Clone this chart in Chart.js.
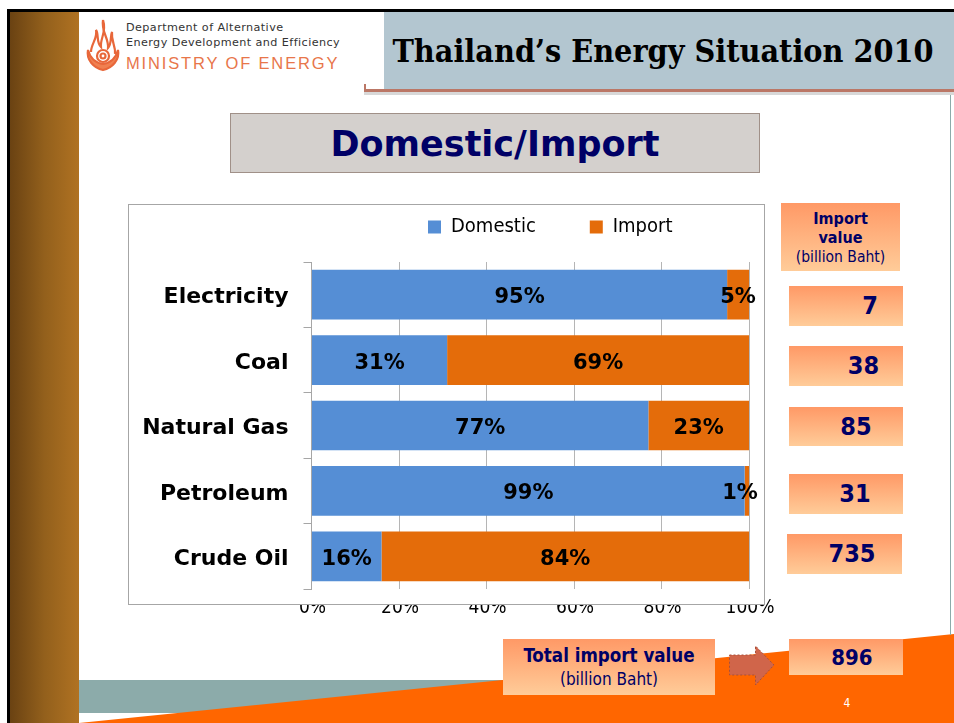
<!DOCTYPE html>
<html><head><meta charset="utf-8">
<script src="https://cdn.jsdelivr.net/npm/chart.js@4"></script>
<style>
html,body{margin:0;padding:0;background:#fff;width:954px;height:723px;overflow:hidden}
.a{position:absolute;box-sizing:border-box}
.g{background:linear-gradient(#ff9966,#ffcc99);color:#000066;text-align:center;font-family:"DejaVu Sans Condensed","DejaVu Sans",sans-serif}
.v{font-weight:bold;font-size:25px;line-height:40px}
.lg{font-family:"DejaVu Sans",sans-serif;font-size:11.2px;color:#333;white-space:nowrap;letter-spacing:.42px}
</style></head><body>
<svg class="a" style="left:0;top:0" width="954" height="723">
<defs><linearGradient id="br" x1="0" x2="1" y1="0" y2="0"><stop offset="0" stop-color="#6a4212"/><stop offset=".5" stop-color="#93601c"/><stop offset="1" stop-color="#b07222"/></linearGradient></defs>
<rect x="79" y="680" width="440" height="33" fill="#8cabaa"/>
<polygon points="79,723 954,634 954,723" fill="#ff6600"/>
<rect x="10" y="12" width="69" height="711" fill="url(#br)"/>
<rect x="7" y="9" width="3" height="714" fill="#000"/>
<rect x="7" y="9" width="947" height="3" fill="#000"/>
<rect x="950" y="95" width="1" height="540" fill="#8cabaa"/>
<rect x="364" y="89" width="590" height="3" fill="#bb7766"/>
<rect x="364" y="92" width="590" height="3" fill="#d8d8d8"/>
<rect x="364" y="84" width="2" height="6" fill="#bb7766"/>
<rect x="384" y="12" width="570" height="77" fill="#b3c6d0"/>
<g fill="none" stroke="#e8673a" stroke-width="2.2">
<path d="M103 20C107 32 100 38 101 47C96 42 99 34 96 30C98 38 91 44 91 52" />
<path d="M103 20C101 32 109 38 108 48C112 44 110 36 112 32C111 42 116 46 115 54"/>
<path d="M88 50C86 60 94 68 103 70C112 68 120 60 118 50C116 58 110 63 103 64C96 63 90 58 88 50Z" fill="#f08050"/>
<circle cx="103" cy="56" r="6"/><circle cx="103" cy="56" r="2.5"/>
</g>
<polygon points="729.5,655 755.5,655 755.5,646 774,665 755.5,685 755.5,675 729.5,675" fill="#d0654a" stroke="#a8503a" stroke-dasharray="2 2"/>
<text x="847" y="707" font-family="DejaVu Sans Condensed" font-size="12" fill="#fff" text-anchor="middle">4</text>
</svg>
<div class="a lg" style="left:126px;top:21px">Department of Alternative</div>
<div class="a lg" style="left:126px;top:36px">Energy Development and Efficiency</div>
<div class="a lg" style="left:126px;top:54px;font-family:'Liberation Sans',sans-serif;color:#e8764a;font-size:16.5px;letter-spacing:1.85px">MINISTRY OF ENERGY</div>
<div class="a" style="left:384px;top:32px;width:570px;padding-right:12px;text-align:center;font:bold 32px 'DejaVu Serif Condensed','DejaVu Serif',serif;color:#000;white-space:nowrap">Thailand’s Energy Situation 2010</div>
<div class="a" style="left:230px;top:113px;width:530px;height:60px;background:#d4d0cd;border:1.5px solid #a09088;text-align:center;font:bold 35px/60px 'DejaVu Sans',sans-serif;color:#000066">Domestic/Import</div>
<div class="a g" style="left:781px;top:203px;width:119px;height:68px;font-size:16px;line-height:19px;padding-top:6px"><b>Import<br>value</b><br><span style="font-size:15.5px">(billion Baht)</span></div>
<div class="a g v" id="v0" style="left:789px;top:286px;width:114px;height:40px;padding-left:48px;text-align:center"></div>
<div class="a g v" id="v1" style="left:789px;top:346px;width:114px;height:40px;padding-left:35px"></div>
<div class="a g v" id="v2" style="left:789px;top:407px;width:114px;height:39px;padding-left:20px"></div>
<div class="a g v" id="v3" style="left:789px;top:474px;width:114px;height:40px;padding-left:18px"></div>
<div class="a g v" id="v4" style="left:787px;top:534px;width:115px;height:40px;padding-left:15px"></div>
<div class="a g" style="left:503px;top:639px;width:212px;height:56px;font-size:18.6px;line-height:23px;padding-top:5px"><b>Total import value</b><br><span style="font-size:17px">(billion Baht)</span></div>
<div class="a g v" id="vt" style="left:789px;top:639px;width:114px;height:36px;line-height:38px;padding-left:12px;font-size:22px"></div>
<canvas id="c" class="a" style="left:128px;top:205px" width="826" height="518"></canvas>
<div class="a" style="left:128px;top:204px;width:637px;height:401px;border:1.5px solid #a6a6a6;pointer-events:none"></div>
<script>
const categories=["Electricity","Coal","Natural Gas","Petroleum","Crude Oil"];
const domestic=[95,31,77,99,16];
const imported=[5,69,23,1,84];
const importValues=[7,38,85,31,735];
const totalImport=896;
const tickLabels=["0%","20%","40%","60%","80%","100%"];
importValues.forEach((v,i)=>document.getElementById("v"+i).textContent=v);
document.getElementById("vt").textContent=totalImport;
const FF="'DejaVu Sans Condensed','DejaVu Sans',sans-serif";
const FB="'DejaVu Sans',sans-serif";
const shape={id:"shape",
 beforeLayout(ch){const l=ch.legend,f=Object.getPrototypeOf(l).fit;l.fit=function(){f.call(this);this.height=57;};},
 afterLayout(ch){const l=ch.legend;l.left=246;l.right=800;l.top=-42;},
 afterDatasetsDraw(ch){const c=ch.ctx;c.save();c.font="bold 21px "+FB;c.fillStyle="#000";c.textAlign="center";c.textBaseline="middle";
  ch.data.datasets.forEach((d,di)=>{ch.getDatasetMeta(di).data.forEach((b,i)=>{
    const p=b.getProps(["x","y","base"],true);
    c.fillText(d.data[i]+"%",Math.min((p.x+p.base)/2,ch.chartArea.right-9),p.y+3);});});c.restore();},
 afterDraw(ch){const c=ch.ctx;c.save();c.fillStyle="#fff";c.fillRect(130,ch.chartArea.bottom+1,506,14);c.restore();}
};
new Chart(document.getElementById("c"),{type:"bar",plugins:[shape],
 data:{labels:categories,datasets:[
  {label:"Domestic",data:domestic,backgroundColor:"#558ed5",barPercentage:.76,categoryPercentage:1},
  {label:"Import",data:imported,backgroundColor:"#e46c0a",barPercentage:.76,categoryPercentage:1}]},
 options:{indexAxis:"y",responsive:false,animation:false,
  layout:{padding:{left:0,top:0,right:205,bottom:104}},
  plugins:{tooltip:{enabled:false},
   legend:{position:"top",align:"start",labels:{boxWidth:13,boxHeight:13,padding:54,color:"#000",font:{family:FF,size:20}}}},
  scales:{
   x:{stacked:true,min:0,max:100,afterFit(s){s.height=30;},afterBuildTicks(s){s.ticks=tickLabels.map((t,i)=>({value:i*20}));},
    grid:{color:"#b5b5b5",drawTicks:false},border:{display:false},
    ticks:{padding:8,labelOffset:1,color:"#000",maxRotation:0,autoSkip:false,font:{family:FF,size:19},callback:(v)=>tickLabels[v/20]}},
   y:{stacked:true,afterFit(s){s.width=183.5;},
    grid:{drawOnChartArea:false,tickLength:8,color:"#a6a6a6"},border:{color:"#a6a6a6"},
    ticks:{padding:15,labelOffset:3,color:"#000",font:{family:FB,size:22,weight:"bold"}}}
  }}});
</script>
</body></html>
